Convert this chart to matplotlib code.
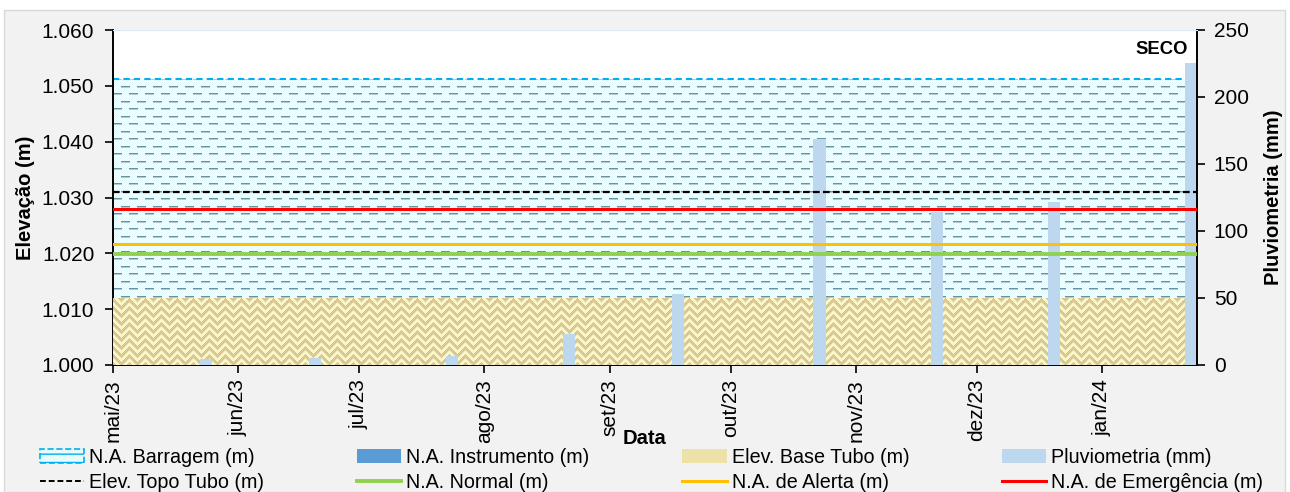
import matplotlib
matplotlib.use("Agg")
import matplotlib.pyplot as plt
import matplotlib.dates as mdates
from matplotlib.patches import Patch, Rectangle
from matplotlib.lines import Line2D
import numpy as np

plt.rcParams["font.family"] = ["Liberation Sans", "DejaVu Sans"]

# ---- data ----
month_ticks = ["2023-05-01", "2023-06-01", "2023-07-01", "2023-08-01", "2023-09-01",
               "2023-10-01", "2023-11-01", "2023-12-01", "2024-01-01"]
month_labels = ["mai/23", "jun/23", "jul/23", "ago/23", "set/23",
                "out/23", "nov/23", "dez/23", "jan/24"]
x_start, x_end = "2023-05-01", "2024-01-24 12:00"

rain_dates = ["2023-05-24", "2023-06-20", "2023-07-24", "2023-08-22", "2023-09-18",
              "2023-10-23", "2023-11-21", "2023-12-20", "2024-01-23"]
rain_mm = [4.5, 5.5, 6.5, 23, 53, 169, 114, 122, 225]

na_barragem = 1.0512
topo_tubo = 1.031
na_emergencia = 1.0279
na_alerta = 1.0216
na_normal = 1.0198
base_tubo = 1.012

y_min, y_max = 1.000, 1.060
p_max = 250

# ---- figure ----
W, H, DPI = 1290, 492, 100
fig = plt.figure(figsize=(W / DPI, H / DPI), dpi=DPI, facecolor="white")
fig.patches.append(Rectangle((4 / W, 0), 1281 / W, 1 - 10 / H, transform=fig.transFigure,
                             facecolor="#f2f2f2", edgecolor="#d9d9d9", lw=1, zorder=-10))

l, r, t, b = 113 / W, 1197 / W, 30 / H, 365 / H
pos = [l, 1 - b, r - l, b - t]
ax = fig.add_axes(pos)
ax.set_facecolor("white")

d = lambda s: mdates.date2num(np.datetime64(s))
x0, x1 = d(x_start), d(x_end)
ax.set_xlim(x0, x1)
ax.set_ylim(y_min, y_max)

ax_w = int(round((r - l) * W))
ax_h = int(round((b - t) * H))
rr, cc = np.mgrid[0:ax_h, 0:ax_w]

# dashed "water" texture
water = np.ones((ax_h, ax_w, 3)) * np.array([0.90, 0.98, 0.99])
water[(rr + cc) % 2 == 0] = [0.98, 1.0, 1.0]
row = rr % 15
shift = np.where(row < 8, 0, 8)
dash = ((cc + shift) % 16 < 9)
water[dash & ((row == 3) | (row == 11))] = [0.40, 0.58, 0.62]
water[dash & ((row == 4) | (row == 12))] = [0.68, 0.80, 0.83]

# herringbone texture
herr = np.ones((ax_h, ax_w, 3)) * np.array([0.87, 0.82, 0.60])
herr[(rr + cc) % 2 == 0] = [0.80, 0.76, 0.62]
v = (rr + np.abs((cc % 16) - 8)) % 8
light = v < 4
herr[light] = [0.99, 0.97, 0.80]
herr[light & (v == 0)] = [0.96, 0.92, 0.70]

fill_w = ax.fill_between([x0, x1], y_min, na_barragem, facecolor="none", edgecolor="none")
im_w = ax.imshow(water, extent=[x0, x1, y_min, y_max], origin="upper", aspect="auto",
                 interpolation="nearest", zorder=1)
im_w.set_clip_path(fill_w.get_paths()[0], fill_w.get_transform())
ax.plot([x0, x1], [na_barragem, na_barragem], color="#00b0f0", lw=1.5, ls=(0, (3, 2)), zorder=2)

fill_b = ax.fill_between([x0, x1], y_min, base_tubo, facecolor="none", edgecolor="none")
im_b = ax.imshow(herr, extent=[x0, x1, y_min, y_max], origin="upper", aspect="auto",
                 interpolation="nearest", zorder=3)
im_b.set_clip_path(fill_b.get_paths()[0], fill_b.get_transform())
ax.set_xlim(x0, x1)
ax.set_ylim(y_min, y_max)

# rain bars on secondary axis
ax2 = ax.twinx()
ax2.bar([d(s) for s in rain_dates], rain_mm, width=3, color="#bdd7ee", zorder=2)
ax2.set_ylim(0, p_max)
ax2.set_yticks(np.arange(0, p_max + 1, 50))
ax2.set_xlim(x0, x1)

# level lines on top
ax3 = fig.add_axes(pos, sharex=ax, sharey=ax)
ax3.axis("off")
ax3.patch.set_visible(False)
ax3.axhline(topo_tubo, color="black", lw=1.6, ls=(0, (3, 1.5)))
ax3.axhline(na_emergencia, color="#ff0000", lw=2.2)
ax3.axhline(na_alerta, color="#ffc000", lw=2.2)
ax3.axhline(na_normal, color="#92d050", lw=2.8)

# axes styling
ax.set_xticks([d(s) for s in month_ticks])
ax.set_xticklabels(month_labels, rotation=90)
ax.set_yticks(np.arange(y_min, y_max + 1e-9, 0.01))
ax.yaxis.set_major_formatter(matplotlib.ticker.FormatStrFormatter("%.3f"))
for a in (ax, ax2):
    a.tick_params(labelsize=15, direction="out", length=6, width=1.2, color="black", pad=4)
    for s in ("left", "right", "bottom"):
        a.spines[s].set_linewidth(1.4)
    a.spines["top"].set_color("#ddebf7")
ax.tick_params(axis="y", pad=7.5)
ax2.tick_params(axis="y", pad=6)
ax.spines["right"].set_visible(False)
ax2.spines["left"].set_visible(False)
ax2.spines["bottom"].set_visible(False)

ax.set_ylabel("Elevação (m)", fontsize=14.5, fontweight="bold", labelpad=5)
ax2.set_ylabel("Pluviometria (mm)", fontsize=14.5, fontweight="bold", labelpad=11)
fig.text(645 / W, 1 - 439 / H, "Data", fontsize=14.5, fontweight="bold", ha="center", va="center")
ax3.text(1 - 9 / 1084, 1 - 19 / 335, "SECO", transform=ax3.transAxes, fontsize=13.3,
         fontweight="bold", ha="right", va="center")

# legend
h_barr = Patch(facecolor="#e8fafc", edgecolor="#00b0f0", ls="--", hatch="--", lw=1.2)
h_inst = Patch(facecolor="#5b9bd5", edgecolor="none")
h_base = Patch(facecolor="#ece2a8", edgecolor="none", hatch="xxx")
h_pluv = Patch(facecolor="#bdd7ee", edgecolor="none")
h_topo = Line2D([], [], color="black", lw=1.4, ls=(0, (3, 1.5)))
h_norm = Line2D([], [], color="#92d050", lw=2.8)
h_aler = Line2D([], [], color="#ffc000", lw=2.2)
h_emer = Line2D([], [], color="#ff0000", lw=2.2)
handles = [h_barr, h_topo, h_inst, h_norm, h_base, h_aler, h_pluv, h_emer]
labels = ["N.A. Barragem (m)", "Elev. Topo Tubo (m)", "N.A. Instrumento (m)", "N.A. Normal (m)",
          "Elev. Base Tubo (m)", "N.A. de Alerta (m)", "Pluviometria (mm)", "N.A. de Emergência (m)"]
plt.rcParams["hatch.color"] = "#a8a080"
fig.legend(handles, labels, ncol=4, loc="upper left", bbox_to_anchor=(40 / W, 1 - 448 / H),
           frameon=False, fontsize=14.2, borderpad=0, borderaxespad=0, handlelength=2.25,
           handletextpad=0.25, columnspacing=4.7, labelspacing=0.32)

fig.savefig("out.png", dpi=DPI, facecolor=fig.get_facecolor())
